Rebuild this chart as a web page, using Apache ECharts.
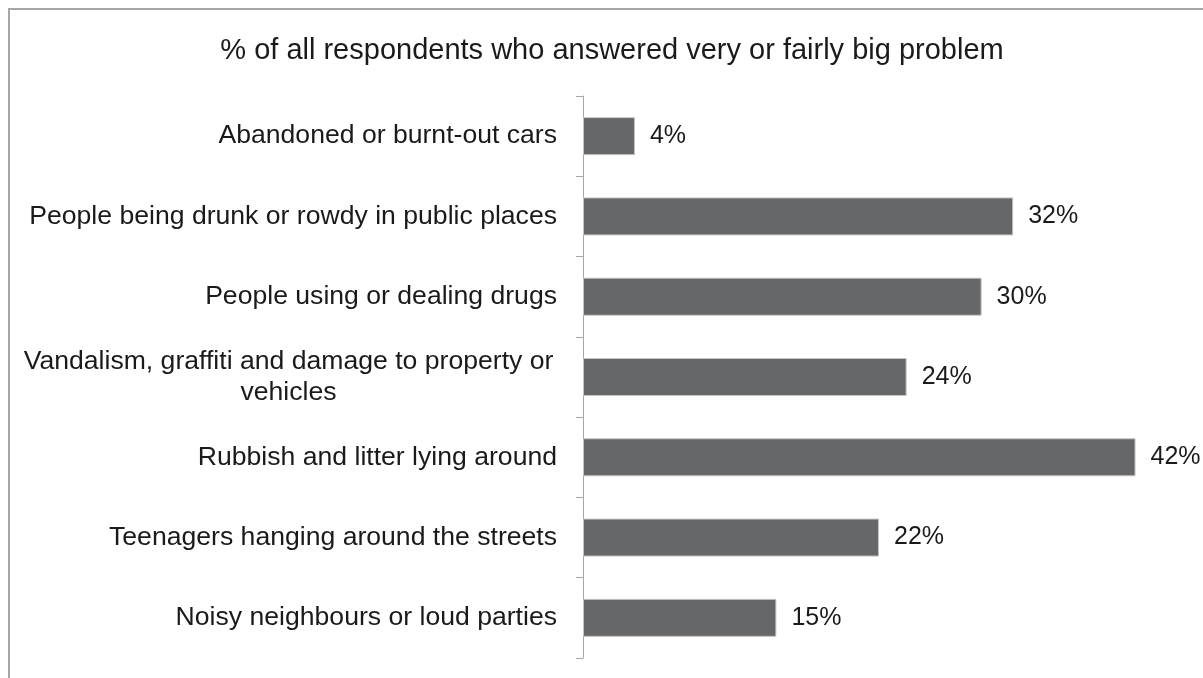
<!DOCTYPE html>
<html>
<head>
<meta charset="utf-8">
<script src="https://cdn.jsdelivr.net/npm/echarts@6/dist/echarts.min.js"></script>
<style>
html,body{margin:0;padding:0;background:#fff;}
#chart{width:1203px;height:678px;}
</style>
</head>
<body>
<div id="chart"></div>
<script>
const categories = [
  'Abandoned or burnt-out cars',
  'People being drunk or rowdy in public places',
  'People using or dealing drugs',
  'Vandalism, graffiti and damage to property or vehicles',
  'Rubbish and litter lying around',
  'Teenagers hanging around the streets',
  'Noisy neighbours or loud parties'
];
// bar lengths
const values = [3.95, 32.7, 30.3, 24.6, 42, 22.5, 14.7];
// data labels as printed on the picture
const valueLabels = ['4%', '32%', '30%', '24%', '42%', '22%', '15%'];
const titleText = '% of all respondents who answered very or fairly big problem';

const chart = echarts.init(document.getElementById('chart'), null, {renderer: 'canvas'});
const font = "'Liberation Sans', Arial, sans-serif";
const txt = '#1a1a1a';
chart.setOption({
  animation: false,
  backgroundColor: '#fff',
  title: {
    text: titleText,
    left: 607,
    textAlign: 'center',
    top: 31,
    textStyle: {fontFamily: font, fontSize: 29, fontWeight: 'normal', color: txt}
  },
  graphic: [{
    type: 'rect',
    shape: {x: 9, y: 9, width: 1300, height: 800},
    style: {fill: 'none', stroke: '#a6a6a6', lineWidth: 2},
    silent: true
  }],
  grid: {left: 583, right: 28, top: 96, bottom: 20, containLabel: false},
  xAxis: {
    type: 'value', min: 0, max: 45, show: false
  },
  yAxis: {
    type: 'category',
    data: categories,
    inverse: true,
    axisLine: {show: true, lineStyle: {color: '#a6a6a6', width: 1}},
    axisTick: {show: true, length: 7, lineStyle: {color: '#a6a6a6'}},
    axisLabel: {
      margin: 26,
      fontFamily: font,
      fontSize: 26.6,
      color: txt,
      lineHeight: 31,
      formatter: function (v) {
        if (v.indexOf('Vandalism') === 0) {
          return '{c|Vandalism, graffiti and damage to property or}\n{c|vehicles}';
        }
        return v;
      },
      rich: {
        c: {width: 537, align: 'center', fontFamily: font, fontSize: 26.6, color: txt, lineHeight: 31}
      }
    }
  },
  series: [{
    type: 'bar',
    data: values,
    barWidth: 38,
    itemStyle: {color: '#666769', borderColor: '#c4c4c4', borderWidth: 1},
    label: {
      show: true,
      position: 'right',
      distance: 15,
      formatter: function (p) { return valueLabels[p.dataIndex]; },
      fontFamily: font,
      fontSize: 25,
      color: txt
    }
  }]
});
</script>
</body>
</html>
